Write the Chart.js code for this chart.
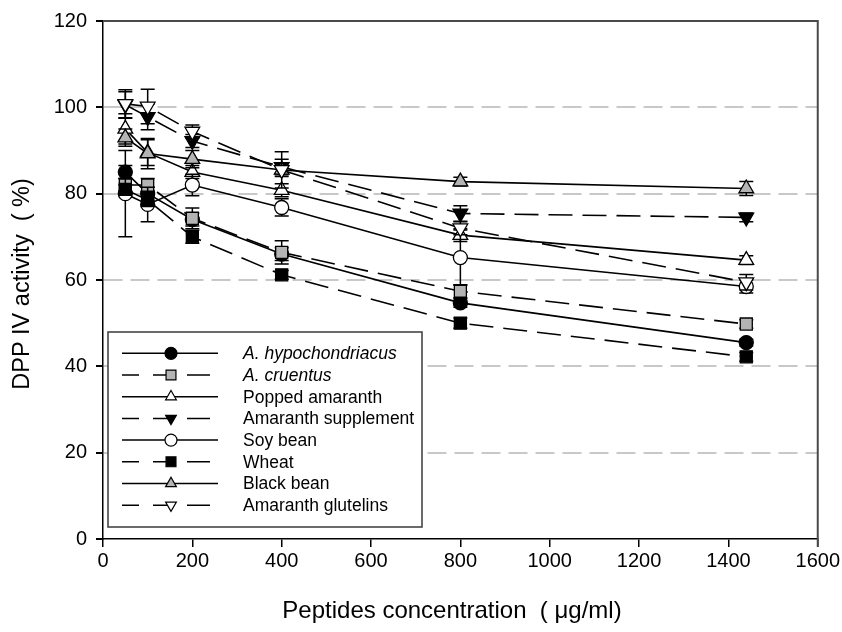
<!DOCTYPE html>
<html>
<head>
<meta charset="utf-8">
<script src="https://cdn.jsdelivr.net/npm/chart.js@4.4.1/dist/chart.umd.min.js"></script>
<style>
  html, body { margin: 0; padding: 0; background: #fff; }
  #wrap { width: 842px; height: 632px; }
</style>
</head>
<body>
<div id="wrap"><canvas id="c" width="842" height="632"></canvas></div>
<script>
// Peptide concentrations (µg/ml)
const concentrations = [50, 100, 200, 400, 800, 1440];

// Series names
const seriesNames = [
  'A. hypochondriacus', 'A. cruentus', 'Popped amaranth', 'Amaranth supplement',
  'Soy bean', 'Wheat', 'Black bean', 'Amaranth glutelins'
];

// DPP IV activity (%) per series
const hypochondriacus    = [85.0, 80.0, 74.0, 66.0, 54.7, 45.5];
const cruentus           = [82.0, 82.0, 74.3, 66.4, 57.4, 49.8];
const poppedAmaranth     = [95.0, 89.5, 85.0, 80.8, 70.4, 64.6];
const amaranthSupplement = [100.6, 97.8, 92.2, 86.2, 75.4, 74.5];
const soyBean            = [80.0, 77.5, 82.0, 76.8, 65.2, 58.5];
const wheat              = [81.0, 78.5, 70.0, 61.2, 50.0, 42.2];
const blackBean          = [93.0, 89.3, 88.0, 85.5, 82.8, 81.2];
const amaranthGlutelins  = [100.8, 100.2, 94.4, 85.5, 72.0, 59.5];

// Standard deviations
const hypochondriacusSd    = [1.5, 1.5, 1.5, 1.5, 1.0, 0.8];
const cruentusSd           = [1.5, 1.5, 2.4, 2.7, 1.5, 1.0];
const poppedAmaranthSd     = [3.5, 3.0, 1.5, 1.5, 1.5, 1.0];
const amaranthSupplementSd = [3.0, 3.0, 1.5, 1.8, 1.8, 1.0];
const soyBeanSd            = [10.0, 4.0, 2.5, 2.0, 6.4, 1.5];
const wheatSd              = [1.0, 1.5, 1.5, 1.0, 1.2, 1.0];
const blackBeanSd          = [2.0, 3.5, 2.0, 1.5, 1.0, 1.6];
const amaranthGlutelinsSd  = [3.3, 4.0, 1.5, 4.2, 1.5, 1.8];

// Axis ticks
const xTicks = [0, 200, 400, 600, 800, 1000, 1200, 1400, 1600];
const yTicks = [0, 20, 40, 60, 80, 100, 120];

const seriesValues = [hypochondriacus, cruentus, poppedAmaranth, amaranthSupplement,
                      soyBean, wheat, blackBean, amaranthGlutelins];
const seriesSd = [hypochondriacusSd, cruentusSd, poppedAmaranthSd, amaranthSupplementSd,
                  soyBeanSd, wheatSd, blackBeanSd, amaranthGlutelinsSd];

// Marker / line appearance for each series
const GRAY = '#b4b4b4';
const DASH = [24, 10];
const seriesStyle = [
  { pointStyle: 'circle',   radius: 7,   keyRadius: 6,   rotation: 0,   fill: '#000', dashed: false, italic: true  },
  { pointStyle: 'rect',     radius: 8.5, keyRadius: 7,   rotation: 0,   fill: GRAY,   dashed: true,  italic: true  },
  { pointStyle: 'triangle', radius: 8.5, keyRadius: 6.2, rotation: 0,   fill: '#fff', dashed: false, italic: false },
  { pointStyle: 'triangle', radius: 8.5, keyRadius: 6.2, rotation: 180, fill: '#000', dashed: true,  italic: false },
  { pointStyle: 'circle',   radius: 7,   keyRadius: 6,   rotation: 0,   fill: '#fff', dashed: false, italic: false },
  { pointStyle: 'rect',     radius: 8.5, keyRadius: 7,   rotation: 0,   fill: '#000', dashed: true,  italic: false },
  { pointStyle: 'triangle', radius: 8.5, keyRadius: 6.2, rotation: 0,   fill: GRAY,   dashed: false, italic: false },
  { pointStyle: 'triangle', radius: 8.5, keyRadius: 6.2, rotation: 180, fill: '#fff', dashed: true,  italic: false }
];

const FONT = 'Liberation Sans, Arial, Helvetica, sans-serif';
Chart.defaults.font.family = FONT;
Chart.defaults.color = '#000';

const datasets = seriesNames.map((name, i) => {
  const st = seriesStyle[i];
  return {
    label: name,
    data: concentrations.map((x, j) => ({ x: x, y: seriesValues[i][j] })),
    errors: seriesSd[i],
    borderColor: '#000',
    borderWidth: 1.6,
    borderDash: st.dashed ? DASH : [],
    pointStyle: st.pointStyle,
    pointRadius: st.radius,
    pointRotation: st.rotation,
    pointBackgroundColor: st.fill,
    pointBorderColor: '#000',
    pointBorderWidth: 1.3,
    pointHoverRadius: st.radius,
    fill: false,
    tension: 0,
    order: seriesNames.length - i
  };
});

// Vertical error bars with caps, drawn just before each series
const errorBars = {
  id: 'errorBars',
  beforeDatasetDraw(chart, args) {
    const ds = chart.data.datasets[args.index];
    const meta = chart.getDatasetMeta(args.index);
    const ys = chart.scales.y;
    const ctx = chart.ctx;
    const cap = 7;
    ctx.save();
    ctx.strokeStyle = '#000';
    ctx.lineWidth = 1.5;
    ctx.setLineDash([]);
    meta.data.forEach((pt, j) => {
      const v = ds.data[j].y, e = ds.errors[j];
      const top = ys.getPixelForValue(v + e);
      const bot = ys.getPixelForValue(v - e);
      const x = pt.x;
      ctx.beginPath();
      ctx.moveTo(x, top); ctx.lineTo(x, bot);
      ctx.moveTo(x - cap, top); ctx.lineTo(x + cap, top);
      ctx.moveTo(x - cap, bot); ctx.lineTo(x + cap, bot);
      ctx.stroke();
    });
    ctx.restore();
  }
};

// Frame, axis titles and key
const decorations = {
  id: 'decorations',
  afterDraw(chart) {
    const ctx = chart.ctx;
    const a = chart.chartArea;
    ctx.save();
    // upper and right frame lines
    ctx.strokeStyle = '#4a4a4a';
    ctx.lineWidth = 2;
    ctx.setLineDash([]);
    ctx.beginPath();
    ctx.moveTo(a.left, a.top); ctx.lineTo(a.right, a.top); ctx.lineTo(a.right, a.bottom + 8);
    ctx.stroke();

    // axis titles
    ctx.fillStyle = '#000';
    ctx.textAlign = 'center';
    ctx.textBaseline = 'middle';
    ctx.font = '24px ' + FONT;
    ctx.fillText('Peptides concentration  ( \u03bcg/ml)', 452, 611);
    ctx.save();
    ctx.translate(23, 284);
    ctx.rotate(-Math.PI / 2);
    ctx.font = '23.5px ' + FONT;
    ctx.fillText('DPP IV activity  ( %)', 0, 0);
    ctx.restore();

    // key box
    const bx = 108, by = 332, bw = 314, bh = 195;
    ctx.fillStyle = '#fff';
    ctx.fillRect(bx, by, bw, bh);
    ctx.strokeStyle = '#3a3a3a';
    ctx.lineWidth = 1.5;
    ctx.strokeRect(bx, by, bw, bh);

    const rowY0 = 353.3, rowGap = 21.7;
    const lx1 = 122, lx2 = 218, mx = 171, tx = 243;
    chart.data.datasets.forEach((ds, i) => {
      const st = seriesStyle[i];
      const y = rowY0 + i * rowGap;
      ctx.strokeStyle = '#000';
      ctx.lineWidth = 1.5;
      ctx.beginPath();
      if (st.dashed) {
        ctx.moveTo(lx1, y); ctx.lineTo(139, y);
        ctx.moveTo(153, y); ctx.lineTo(mx, y);
        ctx.moveTo(187, y); ctx.lineTo(210, y);
      } else {
        ctx.moveTo(lx1, y); ctx.lineTo(lx2, y);
      }
      ctx.stroke();
      ctx.fillStyle = st.fill;
      ctx.strokeStyle = '#000';
      ctx.lineWidth = 1.2;
      Chart.helpers.drawPoint(ctx, {
        pointStyle: st.pointStyle,
        radius: st.keyRadius,
        rotation: st.rotation,
        borderWidth: 1.2
      }, mx, y);
      ctx.fillStyle = '#000';
      ctx.textAlign = 'left';
      ctx.textBaseline = 'middle';
      ctx.font = (st.italic ? 'italic ' : '') + '17.5px ' + FONT;
      ctx.fillText(ds.label, tx, y + 1);
    });
    ctx.restore();
  }
};

new Chart(document.getElementById('c'), {
  type: 'line',
  data: { datasets: datasets },
  plugins: [errorBars, decorations],
  options: {
    responsive: false,
    animation: false,
    devicePixelRatio: 1,
    layout: { padding: { top: 21, right: 24, bottom: 0, left: 0 } },
    plugins: { legend: { display: false }, tooltip: { enabled: false } },
    scales: {
      x: {
        type: 'linear',
        min: 0, max: 1600,
        afterBuildTicks: (s) => { s.ticks = xTicks.map(v => ({ value: v })); },
        afterFit: (s) => { s.height = 93; },
        ticks: { font: { size: 20 }, color: '#000', padding: 2, maxRotation: 0,
                 callback: (v) => String(v) },
        grid: { drawOnChartArea: false, tickColor: '#000', tickLength: 8, lineWidth: 1.5 },
        border: { color: '#000', width: 1.5 }
      },
      y: {
        type: 'linear',
        min: 0, max: 120,
        afterBuildTicks: (s) => { s.ticks = yTicks.map(v => ({ value: v })); },
        afterFit: (s) => { s.width = 103; },
        ticks: { font: { size: 20 }, color: '#000', padding: 9, callback: (v) => String(v) },
        grid: {
          color: (c) => (c.tick && (c.tick.value === 0 || c.tick.value === 120)) ? 'rgba(0,0,0,0)' : '#c8c8c8',
          tickColor: '#000',
          tickLength: 7,
          lineWidth: 2
        },
        border: { color: '#000', width: 1.5, dash: [19, 8] }
      }
    }
  }
});
</script>
</body>
</html>
